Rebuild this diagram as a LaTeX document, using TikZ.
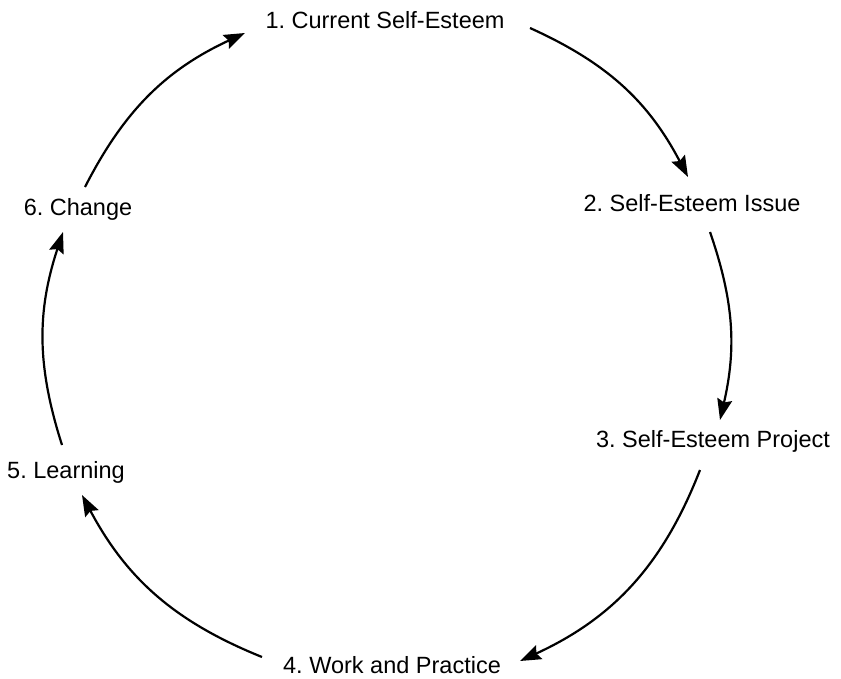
\documentclass[tikz,border=0pt]{standalone}
\usepackage{fontspec}
\setmainfont{Liberation Sans}
\usetikzlibrary{arrows.meta}
\frenchspacing
\begin{document}
\begin{tikzpicture}[x=1pt,y=-1pt,
  lbl/.style={anchor=base,inner sep=0pt,font=\fontsize{23.5}{28}\selectfont},
  conn/.style={line width=2.2pt,-{Stealth[length=21pt,width=15pt,inset=3pt]}}]
\useasboundingbox (0,0) rectangle (841,678);
\node[lbl] (n1) at (385,28) {1. Current Self-Esteem};
\node[lbl] (n2) at (692,211) {2. Self-Esteem Issue};
\node[lbl] (n3) at (713,447) {3. Self-Esteem Project};
\node[lbl] (n4) at (392,673) {4. Work and Practice};
\node[lbl] (n5) at (66,478) {5. Learning};
\node[lbl] (n6) at (78,215) {6. Change};
\coordinate (a1) at (530,28);  \coordinate (b2) at (688,177);
\coordinate (a2) at (710,232); \coordinate (b3) at (720,420);
\coordinate (a3) at (700,470); \coordinate (b4) at (520,661);
\coordinate (a4) at (262,657); \coordinate (b5) at (82,495);
\coordinate (a5) at (62,445);  \coordinate (b6) at (63,232);
\coordinate (a6) at (85,187);  \coordinate (b1) at (245,33);
\draw[conn] (a1) to[bend left=19] (b2);
\draw[conn] (a2) to[bend left=16] (b3);
\draw[conn] (a3) to[bend left=22] (b4);
\draw[conn] (a4) to[bend left=20] (b5);
\draw[conn] (a5) to[bend left=18] (b6);
\draw[conn] (a6) to[bend left=19] (b1);
\end{tikzpicture}
\end{document}
